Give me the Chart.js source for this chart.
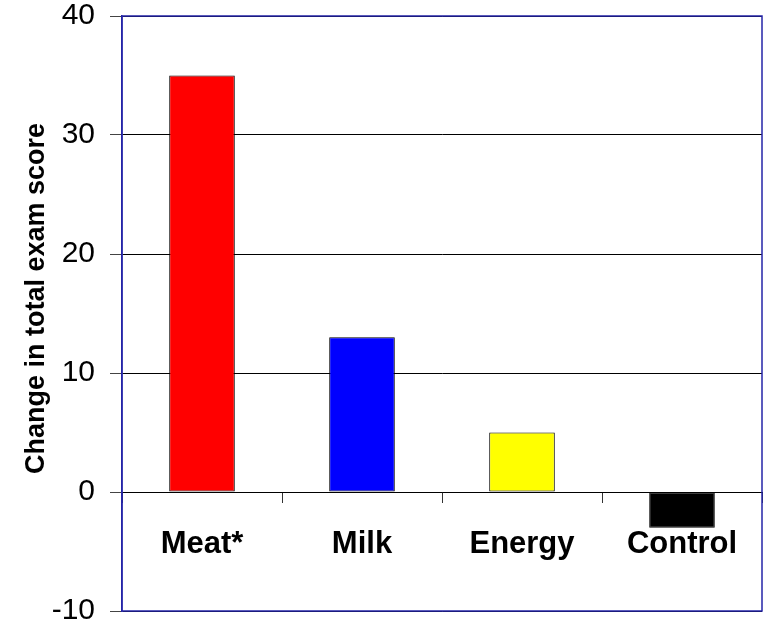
<!DOCTYPE html>
<html>
<head>
<meta charset="utf-8">
<script src="https://cdn.jsdelivr.net/npm/chart.js@4"></script>
<style>
  html, body { margin: 0; padding: 0; background: #fff; }
  #wrap { width: 769px; height: 626px; }
</style>
</head>
<body>
<div id="wrap"><canvas id="grafico"></canvas></div>
<script>
// datos
const categorias = ['Meat*', 'Milk', 'Energy', 'Control'];
const cambios = [35, 13, 5, -3];
const coloresBarras = ['#ff0000', '#0000ff', '#ffff00', '#000000'];
const tituloY = 'Change in total exam score';

// marco azul alrededor del area del grafico
const marco = {
    id: 'marco',
    afterDraw(chart) {
        const a = chart.chartArea;
        const ctx = chart.ctx;
        ctx.save();
        ctx.strokeStyle = '#2424a8';
        ctx.lineWidth = 1.5;
        ctx.strokeRect(a.left, a.top, a.right - a.left, a.bottom - a.top);
        ctx.restore();
    }
};

new Chart(document.getElementById('grafico'), {
    type: 'bar',
    data: {
        labels: categorias,
        datasets: [{
            data: cambios,
            backgroundColor: coloresBarras,
            borderColor: '#000',
            borderWidth: 1,
            borderSkipped: false,
            categoryPercentage: 1,
            barPercentage: 0.41
        }]
    },
    options: {
        responsive: true,
        maintainAspectRatio: false,
        animation: false,
        layout: { padding: { top: 16, bottom: 15, right: 7, left: 0 } },
        plugins: {
            legend: { display: false },
            tooltip: { enabled: false }
        },
        scales: {
            x: {
                position: { y: 0 },
                afterFit(s) { s.paddingTop = 0; s.paddingBottom = 0; s.paddingLeft = 0; s.paddingRight = 0; },
                grid: {
                    offset: true,
                    drawOnChartArea: false,
                    tickLength: 10,
                    color: '#333'
                },
                border: { color: '#000', width: 1 },
                ticks: {
                    color: '#000',
                    padding: 24,
                    font: { family: 'Liberation Sans, Arial, sans-serif', size: 31, weight: 'bold' }
                }
            },
            y: {
                min: -10,
                max: 40,
                afterFit(s) { s.width = 122; s.paddingTop = 0; s.paddingBottom = 0; },
                ticks: {
                    stepSize: 10,
                    color: '#000',
                    padding: 15,
                    font: { family: 'Liberation Sans, Arial, sans-serif', size: 30 }
                },
                grid: {
                    color: '#000',
                    tickColor: '#444',
                    tickLength: 12
                },
                border: { color: '#2424a8', width: 1.5 },
                title: {
                    display: true,
                    text: '    ' + tituloY,
                    color: '#000',
                    padding: { top: 20, bottom: 0 },
                    font: { family: 'Liberation Sans, Arial, sans-serif', size: 27, weight: 'bold' }
                }
            }
        }
    },
    plugins: [marco]
});
</script>
</body>
</html>
